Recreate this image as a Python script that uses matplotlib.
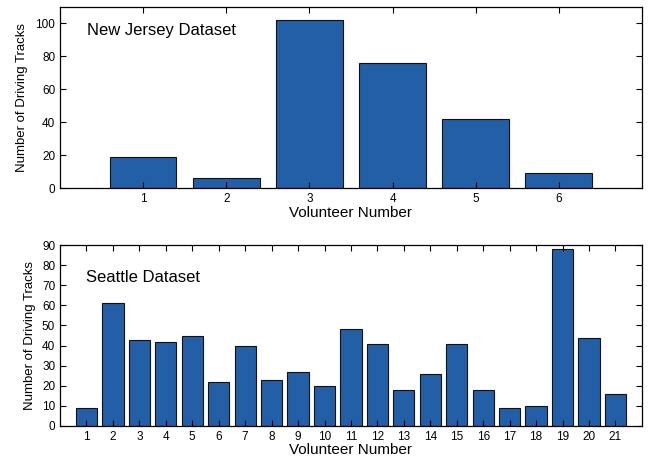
import matplotlib
matplotlib.use("Agg")
import matplotlib.pyplot as plt

plt.rcParams['font.family'] = ['Liberation Sans', 'DejaVu Sans']

nj_volunteers = [1, 2, 3, 4, 5, 6]
nj_tracks = [19, 6, 102, 76, 42, 9]

sea_volunteers = list(range(1, 22))
sea_tracks = [9, 61, 43, 42, 45, 22, 40, 23, 27, 20, 48, 41, 18, 26, 41, 18, 9, 10, 88, 44, 16]

bar_color = '#235FA6'

fig = plt.figure(figsize=(6.49, 4.58), dpi=100)
ax1 = fig.add_axes([0.0925, 0.5895, 0.8965, 0.3952])
ax2 = fig.add_axes([0.0925, 0.0699, 0.8965, 0.3951])

def style(ax):
    ax.tick_params(direction='in', top=True, right=True, labelsize=8.5, length=4, width=0.8)
    for s in ax.spines.values():
        s.set_linewidth(0.9)

ax1.bar(nj_volunteers, nj_tracks, width=0.8, color=bar_color, edgecolor='#111111', linewidth=0.8)
ax1.set_xlim(0, 7)
ax1.set_ylim(0, 110)
ax1.set_xticks(nj_volunteers)
ax1.set_yticks([0, 20, 40, 60, 80, 100])
ax1.set_xlabel('Volunteer Number', fontsize=11, labelpad=1)
ax1.set_ylabel('Number of Driving Tracks', fontsize=9.5, labelpad=5)
ax1.text(0.32, 96, 'New Jersey Dataset', fontsize=12, va='center', ha='left')
style(ax1)

ax2.bar(sea_volunteers, sea_tracks, width=0.8, color=bar_color, edgecolor='#111111', linewidth=0.8)
ax2.set_xlim(0, 22)
ax2.set_ylim(0, 90)
ax2.set_xticks(sea_volunteers)
ax2.set_yticks(range(0, 91, 10))
ax2.set_xlabel('Volunteer Number', fontsize=11, labelpad=0)
ax2.set_ylabel('Number of Driving Tracks', fontsize=9.5, labelpad=4)
ax2.text(0.98, 74, 'Seattle Dataset', fontsize=12, va='center', ha='left')
style(ax2)

fig.savefig('out.png', dpi=100)
